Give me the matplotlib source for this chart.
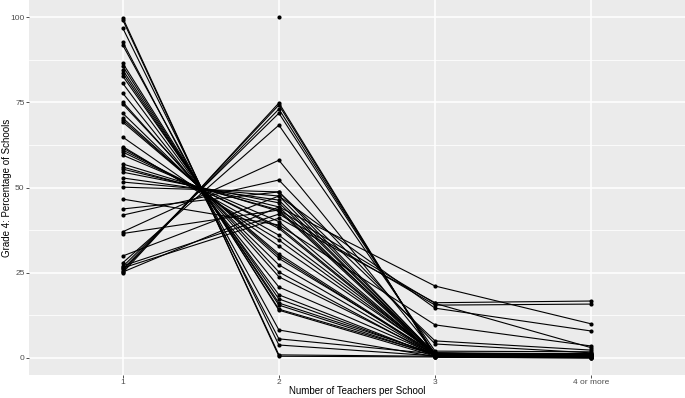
import matplotlib
matplotlib.use("Agg")
import matplotlib.pyplot as plt
import numpy as np

plt.rcParams['font.family'] = ['Liberation Sans', 'DejaVu Sans']

categories = ["1", "2", "3", "4 or more"]

# Each series: percentage of schools with 1, 2, 3, 4+ teachers (NaN = missing)
teachers_1 = [25.2, 26.4, 27.0, 29.9, 36.5, 46.6, 43.7, 41.9, 37.0,
              25.0, 25.5, 26.0, 26.8, 27.9,
              99.8, 99.2, 96.8, 92.7, 91.8, 86.5, 85.6, 84.5, 83.6, 82.7,
              80.6, 77.7, 75.1, 74.5, 71.8, 70.4, 69.8, 69.2, 64.8, 62.0,
              61.6, 61.0, 60.4, 59.5, 56.9, 56.0, 55.4, 54.5, 52.8, 51.6, 50.1,
              np.nan]
teachers_2 = [44.3, 41.0, 42.2, 47.5, 43.4, 39.0, 48.7, 52.2, 58.0,
              74.8, 74.2, 73.0, 71.8, 68.3,
              0.5, 0.9, 3.8, 5.6, 8.2, 14.0, 14.3, 15.5, 16.1, 17.3,
              18.5, 20.8, 23.8, 25.2, 27.3, 29.2, 29.9, 30.5, 32.8, 34.6,
              36.0, 38.0, 38.5, 40.0, 43.0, 43.4, 44.3, 45.5, 46.3, 47.5, 48.7,
              100.0]
teachers_3 = [21.1, 16.2, 15.5, 14.6, 16.0, 9.7, 5.0, 4.1, 1.5,
              0.2, 0.3, 0.8, 1.0, 2.0,
              0.3, 0.5, 0.6, 1.2, 0.4, 0.5, 1.0, 0.8, 1.2, 0.9,
              0.7, 1.0, 1.1, 0.6, 0.9, 1.4, 0.8, 1.0, 1.5, 1.2,
              1.4, 0.8, 1.1, 0.9, 0.7, 1.3, 0.6, 1.0, 0.9, 1.2, 1.1,
              np.nan]
teachers_4 = [10.0, 16.7, 15.8, 7.9, 3.0, 3.5, 2.3, 1.5, 0.5,
              0.0, 0.2, 0.2, 0.4, 1.8,
              0.0, 0.1, 0.2, 0.5, 0.3, 0.2, 0.6, 0.4, 0.5, 0.3,
              0.6, 0.5, 0.8, 0.4, 0.9, 0.7, 0.5, 1.0, 1.2, 0.8,
              1.1, 0.6, 0.9, 0.4, 0.3, 1.0, 0.5, 0.7, 0.8, 1.3, 0.9,
              np.nan]

data = np.array([teachers_1, teachers_2, teachers_3, teachers_4]).T

fig = plt.figure(figsize=(6.85, 3.98), dpi=100)
ax = fig.add_axes([29/685, 23/398, 656/685, 375/398])
ax.set_facecolor('#EBEBEB')

xpos = np.arange(1, len(categories) + 1)
for row in data:
    ax.plot(xpos, row, color='black', lw=0.8, zorder=3)
    ax.scatter(xpos, row, color='black', s=9, zorder=4, linewidths=0)

ax.set_xlim(0.4, 4.6)
ax.set_ylim(-5, 105)
ax.set_xticks(xpos)
ax.set_xticklabels(categories)
ax.set_yticks([0, 25, 50, 75, 100])
ax.set_yticks([12.5, 37.5, 62.5, 87.5], minor=True)
ax.grid(True, which='major', color='white', lw=1.1, zorder=0)
ax.grid(True, which='minor', axis='y', color='white', lw=0.55, zorder=0)
ax.set_axisbelow(True)
for s in ax.spines.values():
    s.set_visible(False)
ax.tick_params(axis='both', which='major', length=2.0, width=0.6, color='#333333',
               labelsize=6, labelcolor='#4D4D4D', pad=1.2)
ax.tick_params(axis='both', which='minor', length=0)

fig.text((29 + 656 * (2.5 - 0.4) / 4.2) / 685, 1 - 391 / 398,
         'Number of Teachers per School', fontsize=7.0, color='black',
         ha='center', va='center')
fig.text(7.5 / 685, 1 - 188 / 398, 'Grade 4: Percentage of Schools',
         fontsize=7.0, color='black', rotation=90, ha='center', va='center')

fig.savefig('out.png', dpi=100)
